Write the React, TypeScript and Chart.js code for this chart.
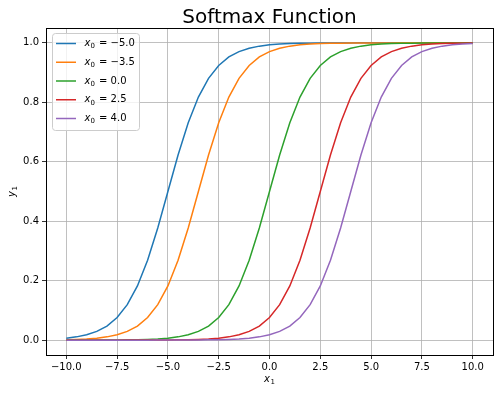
import React, { useEffect, useRef } from "react";
import { Chart, registerables } from "chart.js";
Chart.register(...registerables);

const xValues = [
  -10, -9.5, -9, -8.5, -8, -7.5, -7, -6.5, -6, -5.5, -5, -4.5, -4, -3.5, -3, -2.5, -2, -1.5, -1, -0.5,
  0, 0.5, 1, 1.5, 2, 2.5, 3, 3.5, 4, 4.5, 5, 5.5, 6, 6.5, 7, 7.5, 8, 8.5, 9, 9.5, 10,
];

const seriesNames = ["−5.0", "−3.5", "0.0", "2.5", "4.0"];

const yX0m50 = [
  0.0067, 0.011, 0.018, 0.0293, 0.0474, 0.0759, 0.1192, 0.1824, 0.2689, 0.3775, 0.5, 0.6225, 0.7311,
  0.8176, 0.8808, 0.9241, 0.9526, 0.9707, 0.982, 0.989, 0.9933, 0.9959, 0.9975, 0.9985, 0.9991, 0.9994,
  0.9997, 0.9998, 0.9999, 1.0, 1.0, 1.0, 1.0, 1.0, 1.0, 1.0, 1.0, 1.0, 1.0, 1.0, 1.0,
];
const yX0m35 = [
  0.0015, 0.0025, 0.0041, 0.0067, 0.011, 0.018, 0.0293, 0.0474, 0.0759, 0.1192, 0.1824, 0.2689, 0.3775,
  0.5, 0.6225, 0.7311, 0.8176, 0.8808, 0.9241, 0.9526, 0.9707, 0.982, 0.989, 0.9933, 0.9959, 0.9975,
  0.9985, 0.9991, 0.9994, 0.9997, 0.9998, 0.9999, 0.9999, 1.0, 1.0, 1.0, 1.0, 1.0, 1.0, 1.0, 1.0,
];
const yX000 = [
  0.0, 0.0001, 0.0001, 0.0002, 0.0003, 0.0006, 0.0009, 0.0015, 0.0025, 0.0041, 0.0067, 0.011, 0.018,
  0.0293, 0.0474, 0.0759, 0.1192, 0.1824, 0.2689, 0.3775, 0.5, 0.6225, 0.7311, 0.8176, 0.8808, 0.9241,
  0.9526, 0.9707, 0.982, 0.989, 0.9933, 0.9959, 0.9975, 0.9985, 0.9991, 0.9994, 0.9997, 0.9998, 0.9999,
  0.9999, 1.0,
];
const yX025 = [
  0.0, 0.0, 0.0, 0.0, 0.0, 0.0, 0.0001, 0.0001, 0.0002, 0.0003, 0.0006, 0.0009, 0.0015, 0.0025, 0.0041,
  0.0067, 0.011, 0.018, 0.0293, 0.0474, 0.0759, 0.1192, 0.1824, 0.2689, 0.3775, 0.5, 0.6225, 0.7311,
  0.8176, 0.8808, 0.9241, 0.9526, 0.9707, 0.982, 0.989, 0.9933, 0.9959, 0.9975, 0.9985, 0.9991, 0.9994,
];
const yX040 = [
  0.0, 0.0, 0.0, 0.0, 0.0, 0.0, 0.0, 0.0, 0.0, 0.0001, 0.0001, 0.0002, 0.0003, 0.0006, 0.0009, 0.0015,
  0.0025, 0.0041, 0.0067, 0.011, 0.018, 0.0293, 0.0474, 0.0759, 0.1192, 0.1824, 0.2689, 0.3775, 0.5,
  0.6225, 0.7311, 0.8176, 0.8808, 0.9241, 0.9526, 0.9707, 0.982, 0.989, 0.9933, 0.9959, 0.9975,
];

const xTicks = [-10, -7.5, -5, -2.5, 0, 2.5, 5, 7.5, 10];
const yTicks = [0, 0.2, 0.4, 0.6, 0.8, 1.0];

const allSeries = [yX0m50, yX0m35, yX000, yX025, yX040];
const colors = ["#1f77b4", "#ff7f0e", "#2ca02c", "#d62728", "#9467bd"];

const FONT = "'DejaVu Sans', sans-serif";
const fmt = (v: number) => v.toFixed(1).replace("-", "\u2212");

function drawSubLabel(ctx: any, base: string, sub: string, cx: number, cy: number) {
  ctx.font = `italic 10px ${FONT}`;
  const w1 = ctx.measureText(base).width;
  ctx.font = `7px ${FONT}`;
  const w2 = ctx.measureText(sub).width;
  const start = cx - (w1 + w2 + 0.5) / 2;
  ctx.textAlign = "left";
  ctx.textBaseline = "middle";
  ctx.font = `italic 10px ${FONT}`;
  ctx.fillText(base, start, cy);
  ctx.font = `7px ${FONT}`;
  ctx.fillText(sub, start + w1 + 0.5, cy + 3);
}

const framePlugin = {
  id: "frame",
  afterDatasetsDraw(chart: any) {
    const { ctx, chartArea: a } = chart;
    ctx.save();
    ctx.strokeStyle = "#000";
    ctx.lineWidth = 1;
    ctx.strokeRect(Math.round(a.left) + 0.5, Math.round(a.top) + 0.5, Math.round(a.right - a.left), Math.round(a.bottom - a.top));
    ctx.restore();
  },
  afterDraw(chart: any) {
    const { ctx, chartArea: a } = chart;
    ctx.save();
    // title
    ctx.fillStyle = "#000";
    ctx.font = `20px ${FONT}`;
    ctx.textAlign = "center";
    ctx.textBaseline = "alphabetic";
    ctx.fillText("Softmax Function", (a.left + a.right) / 2, 23);
    // axis titles
    drawSubLabel(ctx, "x", "1", (a.left + a.right) / 2, 379);
    ctx.save();
    ctx.translate(12, (a.top + a.bottom) / 2);
    ctx.rotate(-Math.PI / 2);
    drawSubLabel(ctx, "y", "1", 0, 0);
    ctx.restore();
    // legend
    const bx = a.left + 6.5, by = a.top + 5.5, bw = 87, bh = 97, r = 3;
    ctx.beginPath();
    ctx.moveTo(bx + r, by);
    ctx.lineTo(bx + bw - r, by);
    ctx.arcTo(bx + bw, by, bx + bw, by + r, r);
    ctx.lineTo(bx + bw, by + bh - r);
    ctx.arcTo(bx + bw, by + bh, bx + bw - r, by + bh, r);
    ctx.lineTo(bx + r, by + bh);
    ctx.arcTo(bx, by + bh, bx, by + bh - r, r);
    ctx.lineTo(bx, by + r);
    ctx.arcTo(bx, by, bx + r, by, r);
    ctx.closePath();
    ctx.fillStyle = "rgba(255,255,255,0.8)";
    ctx.fill();
    ctx.strokeStyle = "#cccccc";
    ctx.lineWidth = 1;
    ctx.stroke();
    seriesNames.forEach((name, i) => {
      const y = by + 10 + i * 18.75;
      ctx.strokeStyle = colors[i];
      ctx.lineWidth = 1.5;
      ctx.beginPath();
      ctx.moveTo(bx + 3.5, y);
      ctx.lineTo(bx + 23.5, y);
      ctx.stroke();
      ctx.fillStyle = "#000";
      ctx.textAlign = "left";
      ctx.textBaseline = "middle";
      let tx = bx + 32;
      ctx.font = `italic 10px ${FONT}`;
      ctx.fillText("x", tx, y);
      tx += ctx.measureText("x").width;
      ctx.font = `7px ${FONT}`;
      ctx.fillText("0", tx, y + 3);
      tx += ctx.measureText("0").width + 1;
      ctx.font = `10px ${FONT}`;
      ctx.fillText(" = " + name, tx, y);
    });
    ctx.restore();
  },
};

export default function App() {
  const ref = useRef<HTMLCanvasElement | null>(null);
  useEffect(() => {
    if (!ref.current) return;
    const datasets = allSeries.map((s, i) => ({
      label: "x0 = " + seriesNames[i],
      data: s.map((y, j) => ({ x: xValues[j], y })),
      borderColor: colors[i],
      backgroundColor: colors[i],
      borderWidth: 1.5,
      pointRadius: 0,
      tension: 0,
      fill: false,
      order: allSeries.length - 1 - i,
    }));
    const tickFont = { family: FONT, size: 10 };
    const chart = new Chart(ref.current, {
      type: "line",
      data: { datasets },
      options: {
        animation: false,
        responsive: false,
        layout: { padding: { top: 28, right: 6, left: 0, bottom: 0 } },
        plugins: { legend: { display: false }, tooltip: { enabled: false }, title: { display: false } },
        scales: {
          x: {
            type: "linear",
            min: -11,
            max: 11,
            afterBuildTicks: (s: any) => {
              s.ticks = xTicks.map((v) => ({ value: v }));
            },
            afterFit: (s: any) => {
              s.height = 39;
            },
            ticks: { callback: (v: any) => fmt(Number(v)), font: tickFont, color: "#000", padding: 2, maxRotation: 0, autoSkip: false },
            grid: { color: "#b0b0b0", lineWidth: 0.8, tickColor: "#000", tickLength: 4 },
            border: { display: true, color: "#000", width: 1 },
            title: { display: false },
          },
          y: {
            type: "linear",
            min: -0.05,
            max: 1.05,
            afterBuildTicks: (s: any) => {
              s.ticks = yTicks.map((v) => ({ value: v }));
            },
            afterFit: (s: any) => {
              s.width = 46;
            },
            ticks: { callback: (v: any) => fmt(Number(v)), font: tickFont, color: "#000", padding: 3, autoSkip: false },
            grid: { color: "#b0b0b0", lineWidth: 0.8, tickColor: "#000", tickLength: 4 },
            border: { display: true, color: "#000", width: 1 },
            title: { display: false },
          },
        },
      } as any,
      plugins: [framePlugin],
    });
    return () => chart.destroy();
  }, []);
  return (
    <div style={{ position: "fixed", left: 0, top: 0, width: 499, height: 394, background: "#fff" }}>
      <canvas ref={ref} width={499} height={394} style={{ display: "block", width: 499, height: 394 }} />
    </div>
  );
}
